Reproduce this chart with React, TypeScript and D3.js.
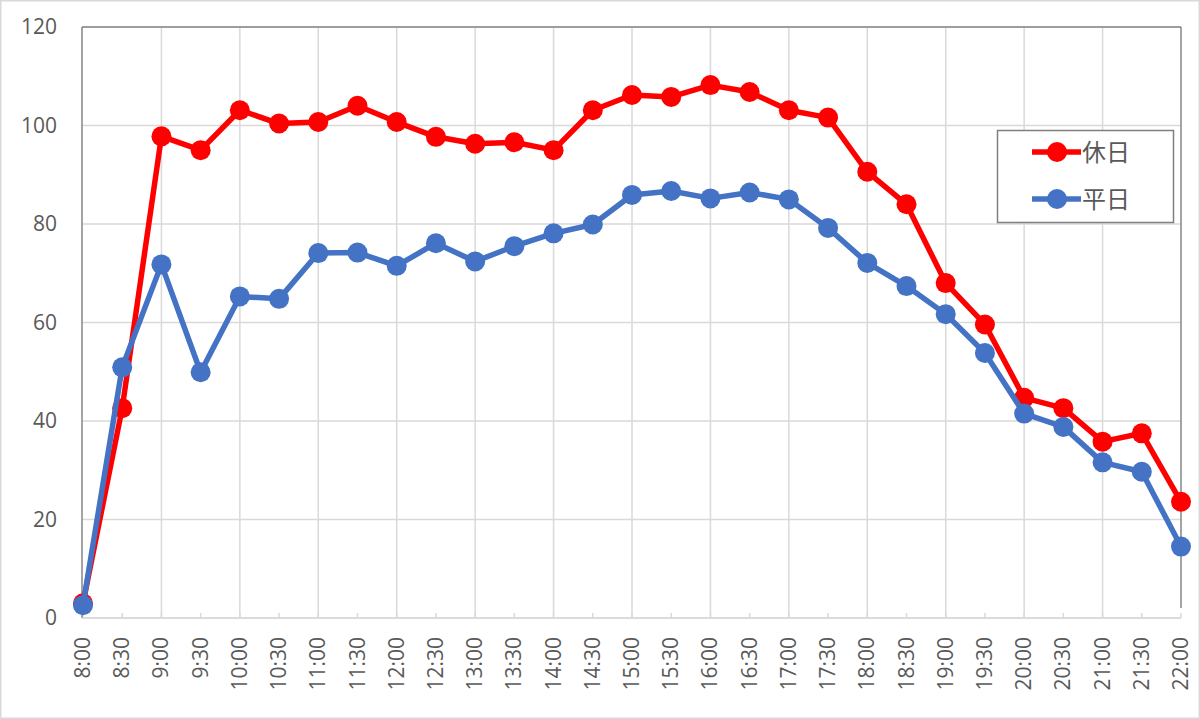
import React from "react";
import * as d3 from "d3";

const categories = ["8:00","8:30","9:00","9:30","10:00","10:30","11:00","11:30","12:00","12:30","13:00","13:30","14:00","14:30","15:00","15:30","16:00","16:30","17:00","17:30","18:00","18:30","19:00","19:30","20:00","20:30","21:00","21:30","22:00"];
const holiday = [3, 42.6, 97.8, 95.0, 103.1, 100.4, 100.7, 104.0, 100.7, 97.7, 96.3, 96.6, 95.0, 103.1, 106.2, 105.8, 108.2, 106.8, 103.1, 101.6, 90.6, 84.0, 68.0, 59.6, 44.7, 42.6, 35.8, 37.5, 23.6];
const weekday = [2.6, 50.9, 71.8, 49.9, 65.3, 64.8, 74.1, 74.2, 71.5, 76.1, 72.4, 75.5, 78.1, 79.9, 85.9, 86.7, 85.2, 86.4, 85.0, 79.2, 72.1, 67.4, 61.7, 53.8, 41.5, 38.8, 31.6, 29.7, 14.5];
const yTicks = [0, 20, 40, 60, 80, 100, 120];
const seriesNames = ["休日", "平日"];
const seriesColors = ["#FF0000", "#4472C4"];

const W = 1200, H = 719;
const L = 83, R = 1181, T = 27, B = 618;
const FONT = "'Segoe UI', 'Open Sans', 'Noto Sans CJK JP', sans-serif";

export default function App() {
  const x = d3.scalePoint<string>().domain(categories).range([L, R]);
  const y = d3.scaleLinear().domain([0, 120]).range([B, T]);
  const line = d3.line<number>().x((_, i) => x(categories[i])!).y((d) => y(d));
  const series = [holiday, weekday];
  const textColor = "#595959";
  return (
    <svg width={W} height={H} style={{ position: "absolute", left: 0, top: 0, background: "#fff" }}>
      <rect x={0.5} y={0.5} width={W - 1} height={H - 1} fill="#fff" stroke="#d9d9d9" strokeWidth={2} />
      {yTicks.map((t) => (
        <line key={"gy" + t} x1={L - 1} x2={R} y1={y(t)} y2={y(t)} stroke="#d9d9d9" strokeWidth={1.5} />
      ))}
      {categories.map((c, i) =>
        i % 2 === 0 && i > 0 && i < categories.length - 1 ? (
          <line key={"gx" + c} x1={x(c)} x2={x(c)} y1={T} y2={B} stroke="#d9d9d9" strokeWidth={1.5} />
        ) : null
      )}
      {categories.map((c) => (
        <line key={"tk" + c} x1={x(c)} x2={x(c)} y1={B} y2={B - 5} stroke="#d9d9d9" strokeWidth={1.5} />
      ))}
      <line x1={L - 1} x2={L - 1} y1={T} y2={B} stroke="#868686" strokeWidth={1.5} />
      <line x1={L - 1} x2={R} y1={T} y2={T} stroke="#868686" strokeWidth={1.5} />
      <line x1={R} x2={R} y1={T} y2={B - 10} stroke="#868686" strokeWidth={1.5} />
      <line x1={L - 1} x2={R} y1={B} y2={B} stroke="#d9d9d9" strokeWidth={1.5} />
      {yTicks.map((t) => (
        <text key={"yl" + t} x={57} y={y(t)} dy="0.35em" textAnchor="end" fontSize={21} fill={textColor} fontFamily={FONT}>
          {t}
        </text>
      ))}
      {categories.map((c) => (
        <text
          key={"xl" + c}
          transform={`translate(${x(c)! + 7},637) rotate(-90)`}
          textAnchor="end"
          fontSize={21}
          fill={textColor}
          fontFamily={FONT}
        >
          {c}
        </text>
      ))}
      {series.map((s, k) => (
        <g key={"s" + k}>
          <path d={line(s)!} fill="none" stroke={seriesColors[k]} strokeWidth={5.5} strokeLinejoin="round" />
          {s.map((v, i) => (
            <circle key={i} cx={x(categories[i])} cy={y(v)} r={10} fill={seriesColors[k]} />
          ))}
        </g>
      ))}
      <rect x={997.5} y={130.5} width={176} height={92} fill="#fff" stroke="#7f7f7f" strokeWidth={1.5} />
      {seriesNames.map((n, k) => {
        const ly = k === 0 ? 152 : 199;
        return (
          <g key={"lg" + n}>
            <line x1={1032} x2={1081} y1={ly} y2={ly} stroke={seriesColors[k]} strokeWidth={5.5} />
            <circle cx={1057} cy={ly} r={10} fill={seriesColors[k]} />
            <text x={1082} y={ly} dy="0.36em" fontSize={24} fill={textColor} fontFamily="'Noto Sans CJK JP', sans-serif">
              {n}
            </text>
          </g>
        );
      })}
    </svg>
  );
}
